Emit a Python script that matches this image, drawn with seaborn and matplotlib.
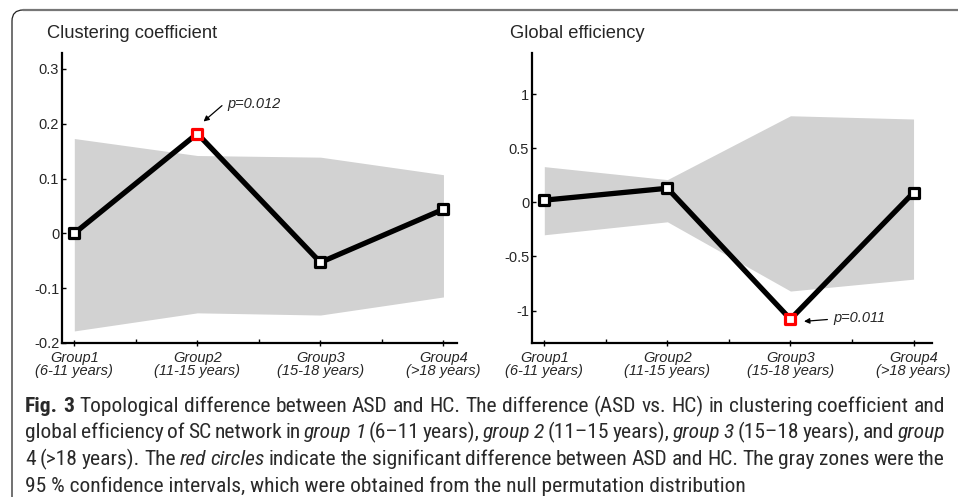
import numpy as np
import pandas as pd
import seaborn as sns
import matplotlib
matplotlib.use("Agg")
import matplotlib.pyplot as plt
from matplotlib import font_manager
from matplotlib.lines import Line2D
from matplotlib.path import Path
from matplotlib.patches import PathPatch

# ---------------- data ----------------
groups = [1, 2, 3, 4]
group_labels = ["Group1\n(6-11 years)", "Group2\n(11-15 years)",
                "Group3\n(15-18 years)", "Group4\n(>18 years)"]

cc_values = [0.0, 0.182, -0.053, 0.044]
cc_upper = [0.173, 0.142, 0.139, 0.107]
cc_lower = [-0.178, -0.145, -0.149, -0.116]
cc_sig = [False, True, False, False]
cc_yticks = [0.3, 0.2, 0.1, 0, -0.1, -0.2]
cc_yticklabels = ["0.3", "0.2", "0.1", "0", "-0.1", "-0.2"]

ge_values = [0.02, 0.13, -1.08, 0.09]
ge_upper = [0.33, 0.21, 0.80, 0.77]
ge_lower = [-0.30, -0.18, -0.82, -0.71]
ge_sig = [False, False, True, False]
ge_yticks = [1, 0.5, 0, -0.5, -1]
ge_yticklabels = ["1", "0.5", "0", "-0.5", "-1"]

titles = ["Clustering coefficient", "Global efficiency"]
p_texts = ["p=0.012", "p=0.011"]

caption_lines = [
    [("Fig. 3", "bold"), ("Topological difference between ASD and HC. The difference (ASD vs. HC) in clustering coefficient and", "normal")],
    [("global efficiency of SC network in", "normal"), ("group 1", "italic"), ("(6\u201311 years),", "normal"),
     ("group 2", "italic"), ("(11\u201315 years),", "normal"), ("group 3", "italic"),
     ("(15\u201318 years), and", "normal"), ("group", "italic")],
    [("4 (>18 years). The", "normal"), ("red circles", "italic"),
     ("indicate the significant difference between ASD and HC. The gray zones were the", "normal")],
    [("95 % confidence intervals, which were obtained from the null permutation distribution", "normal")],
]

# ---------------- style ----------------
sns.set_theme(style="ticks")
plt.rcParams["font.family"] = ["Liberation Sans", "DejaVu Sans"]
plt.rcParams["axes.unicode_minus"] = False

W, H = 958, 497
fig = plt.figure(figsize=(W / 100, H / 100), dpi=100)


def fx(px):
    return px / W


def fy(py):
    return 1 - py / H


ax1 = fig.add_axes([fx(62), fy(343), fx(457) - fx(62), fy(53) - fy(343)])
ax2 = fig.add_axes([fx(532), fy(343), fx(932) - fx(532), fy(53) - fy(343)])


def panel(ax, values, upper, lower, sig, yticks, ylabels, ylim, xlim):
    ax.fill_between(groups, lower, upper, color="#d2d2d2", lw=0, zorder=1)
    df = pd.DataFrame({"group": groups, "value": values, "sig": sig})
    sns.lineplot(data=df, x="group", y="value", color="black", lw=3.8, ax=ax,
                 zorder=2, legend=False)
    sns.scatterplot(data=df[~df["sig"]], x="group", y="value", marker="s", s=55,
                    color="white", edgecolor="black", linewidth=2.3, ax=ax,
                    zorder=3, legend=False)
    sns.scatterplot(data=df[df["sig"]], x="group", y="value", marker="s", s=55,
                    color="white", edgecolor="#ff0000", linewidth=2.3, ax=ax,
                    zorder=4, legend=False)
    ax.set_xlim(*xlim)
    ax.set_ylim(*ylim)
    ax.set_xticks(groups)
    ax.set_xticks([1.5, 2.5, 3.5], minor=True)
    ax.set_xticklabels(group_labels, fontsize=10.5, style="italic", linespacing=0.95)
    ax.set_yticks(yticks)
    ax.set_yticklabels(ylabels, fontsize=10.5)
    ax.set_xlabel("")
    ax.set_ylabel("")
    ax.tick_params(axis="both", which="both", direction="in", color="black",
                   width=1.0, length=3, pad=3)
    ax.tick_params(axis="y", pad=2)
    ax.tick_params(axis="x", which="major", direction="inout", length=5)
    for s in ["left", "bottom"]:
        ax.spines[s].set_linewidth(1.6)
        ax.spines[s].set_color("black")
    sns.despine(ax=ax)
    ax.set_facecolor("white")


panel(ax1, cc_values, cc_upper, cc_lower, cc_sig, cc_yticks, cc_yticklabels,
      (-0.2, 0.329), (0.90, 4.11))
panel(ax2, ge_values, ge_upper, ge_lower, ge_sig, ge_yticks, ge_yticklabels,
      (-1.30, 1.38), (0.90, 4.15))

# annotations
arrow_kw = dict(arrowstyle="-|>", color="black", lw=0.9, mutation_scale=8,
                shrinkA=0, shrinkB=0)
ax1.annotate("", xy=(2.05, 0.204), xytext=(2.20, 0.233), arrowprops=arrow_kw)
ax1.text(2.244, 0.236, p_texts[0], ha="left", va="center", fontsize=10.5, style="italic")
ax2.annotate("", xy=(3.11, -1.10), xytext=(3.30, -1.083), arrowprops=arrow_kw)
ax2.text(3.35, -1.065, p_texts[1], ha="left", va="center", fontsize=10.5, style="italic")

# titles
fig.text(fx(47), fy(33), titles[0], fontsize=13.2, ha="left", va="center")
fig.text(fx(510), fy(33), titles[1], fontsize=13.2, ha="left", va="center")

# frame (rounded top-left corner)
r = 11
verts = [(fx(12), 0.0), (fx(12), fy(10 + r)), (fx(12), fy(10)), (fx(12 + r), fy(10))]
codes = [Path.MOVETO, Path.LINETO, Path.CURVE3, Path.CURVE3]
fig.add_artist(PathPatch(Path(verts, codes), fill=False, edgecolor="#222222",
                         lw=0.9, transform=fig.transFigure))
fig.add_artist(Line2D([fx(12 + r), 1.0], [fy(10), fy(10)], color="#777777",
                      lw=1.6, transform=fig.transFigure))

# caption
avail = {f.name for f in font_manager.fontManager.ttflist}
cap_font = next((f for f in ["Liberation Sans Narrow", "Roboto Condensed",
                             "Open Sans Condensed", "Noto Sans", "Open Sans"]
                 if f in avail), "DejaVu Sans")

renderer = fig.canvas.get_renderer()


def style_kw(style):
    if style == "bold":
        return {"weight": "bold"}
    if style == "italic":
        return {"style": "italic"}
    return {}


def measure(s, style, size):
    t = fig.text(0, 0, s, fontsize=size, family=cap_font, **style_kw(style))
    w = t.get_window_extent(renderer).width
    t.remove()
    return w


def tokens(line):
    out = []
    for seg, style in line:
        for w in seg.split(" "):
            out.append((w, style))
    return out


x0, x1 = 25, 945
# choose font size so the first line, with natural spacing, nearly fills the width
base = 12.0
toks1 = tokens(caption_lines[0])
nat = sum(measure(w, st, base) for w, st in toks1)
sp = measure("x x", "normal", base) - measure("xx", "normal", base)
nat += sp * (len(toks1) - 1)
cap_size = base * (x1 - x0 - 2) / nat

cap_color = "#2a2a2a"
baselines = [412, 438.5, 465, 491.5]
for i, line in enumerate(caption_lines):
    if i == 3:
        fig.text(fx(x0), fy(baselines[i]), line[0][0], ha="left", va="baseline",
                 fontsize=cap_size, family=cap_font, color=cap_color)
        continue
    toks = tokens(line)
    widths = [measure(w, st, cap_size) for w, st in toks]
    gap = (x1 - x0 - sum(widths)) / (len(toks) - 1)
    x = x0
    for (w, st), wd in zip(toks, widths):
        fig.text(fx(x), fy(baselines[i]), w, ha="left", va="baseline",
                 fontsize=cap_size, family=cap_font, color=cap_color, **style_kw(st))
        x += wd + gap

fig.savefig("out.png", dpi=100, facecolor="white")
